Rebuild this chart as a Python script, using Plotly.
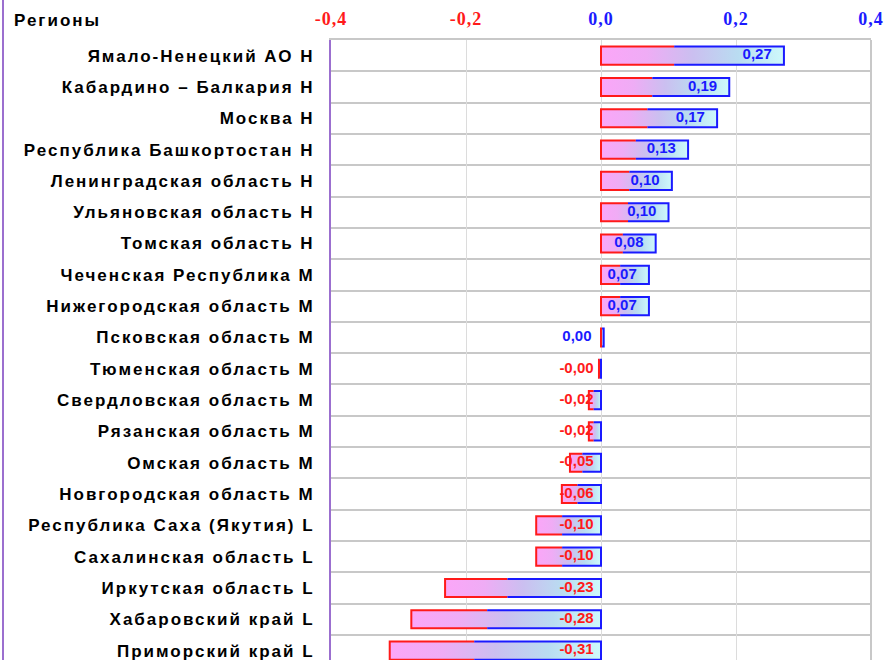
import plotly.graph_objects as go

regions = [
    "Ямало-Ненецкий АО Н", "Кабардино – Балкария Н", "Москва Н",
    "Республика Башкортостан Н", "Ленинградская область Н", "Ульяновская область Н",
    "Томская область Н", "Чеченская Республика М", "Нижегородская область М",
    "Псковская область М", "Тюменская область М", "Свердловская область М",
    "Рязанская область М", "Омская область М", "Новгородская область М",
    "Республика Саха (Якутия) L", "Сахалинская область L", "Иркутская область L",
    "Хабаровский край L", "Приморский край L",
]
values = [0.271, 0.19, 0.172, 0.129, 0.105, 0.10, 0.081, 0.071, 0.071, 0.004,
          -0.003, -0.018, -0.018, -0.046, -0.058, -0.096, -0.096, -0.231, -0.281, -0.313]
x_ticks = [-0.4, -0.2, 0.0, 0.2, 0.4]

RED = "#ff1a1a"
BLUE = "#1a1aff"
grad = [[0, "#fba6f8"], [0.25, "#efacf5"], [0.5, "#cbbff0"], [0.75, "#b9dcf1"], [1, "#cef9fb"]]
h = 0.29


def spaced(s, px):
    return "<span style='letter-spacing:%spx'>%s</span>" % (px, s)


fig = go.Figure()

red_x, red_y, blue_x, blue_y = [], [], [], []
for i, v in enumerate(values):
    x0, x1 = min(v, 0), max(v, 0)
    xm = x0 + 0.4 * (x1 - x0)
    fig.add_trace(go.Scatter(
        x=[x0, x1, x1, x0, x0], y=[i - h, i - h, i + h, i + h, i - h],
        mode="lines", fill="toself", line=dict(width=0),
        fillgradient=dict(type="horizontal", colorscale=grad),
        hoverinfo="skip",
    ))
    red_x += [xm, x0, x0, xm, None]
    red_y += [i - h, i - h, i + h, i + h, None]
    blue_x += [xm, x1, x1, xm, None]
    blue_y += [i - h, i - h, i + h, i + h, None]

fig.add_trace(go.Scatter(x=red_x, y=red_y, mode="lines",
                         line=dict(color=RED, width=2), hoverinfo="skip"))
fig.add_trace(go.Scatter(x=blue_x, y=blue_y, mode="lines",
                         line=dict(color=BLUE, width=2), hoverinfo="skip"))

# value labels, right-aligned just inside the outer end of the bar
labels = [("%.2f" % v).replace(".", ",") for v in values]
fig.add_trace(go.Scatter(
    x=[v - 0.018 if v >= 0 else -0.011 for v in values], y=list(range(len(values))),
    mode="text", text=labels, textposition="middle left",
    textfont=dict(family="Liberation Sans", size=15, weight="bold",
                  color=[BLUE if v >= 0 else RED for v in values]),
    hoverinfo="skip",
))

tick_text = ["<span style='color:%s;letter-spacing:1px'>%s</span>" % (RED if t < 0 else BLUE,
             ("%.1f" % t).replace(".", ",")) for t in x_ticks]

fig.update_layout(
    width=886, height=661,
    margin=dict(l=331, r=15, t=40, b=1),
    plot_bgcolor="white", paper_bgcolor="white",
    showlegend=False,
    xaxis=dict(
        side="top", range=[-0.4, 0.4], tickvals=x_ticks, ticktext=tick_text,
        tickfont=dict(family="Liberation Serif", size=18, weight="bold"),
        showgrid=True, gridcolor="#dcdcdc", gridwidth=1,
        zeroline=False, showline=True, linecolor="#c8c8c8", linewidth=2,
        mirror=False, ticks="", ticklabelstandoff=6, fixedrange=True,
        automargin=False,
    ),
    yaxis=dict(
        range=[19.3, -0.5], tickvals=list(range(len(regions))),
        ticktext=[spaced(r, 2) for r in regions],
        tickfont=dict(family="Liberation Sans", size=17, weight="bold", color="black"),
        showgrid=False, zeroline=False,
        minor=dict(tick0=0.5, dtick=1, showgrid=True, gridcolor="#c8c8c8", gridwidth=2),
        showline=True, linecolor="#9b6fcf", linewidth=2,
        ticks="", ticklabelstandoff=11, fixedrange=True, automargin=False,
    ),
    shapes=[
        dict(type="line", xref="paper", yref="paper", x0=1, x1=1, y0=0, y1=1,
             line=dict(color="#c8c8c8", width=2)),
        dict(type="line", xref="paper", yref="paper", x0=-328 / 540, x1=-328 / 540,
             y0=0, y1=1.1, line=dict(color="#9b6fcf", width=2)),
    ],
    annotations=[
        dict(text="<b>%s</b>" % spaced("Регионы", 2), xref="paper", yref="paper",
             x=-319 / 540, y=1 + 20 / 620,
             xanchor="left", yanchor="middle", showarrow=False,
             font=dict(family="Liberation Sans", size=17, color="black")),
    ],
)

# drop the default page margin so the chart sits at the window's corner
fig.write_html("out.html", config={"displayModeBar": False},
               post_script="document.body.style.margin = '0';")
